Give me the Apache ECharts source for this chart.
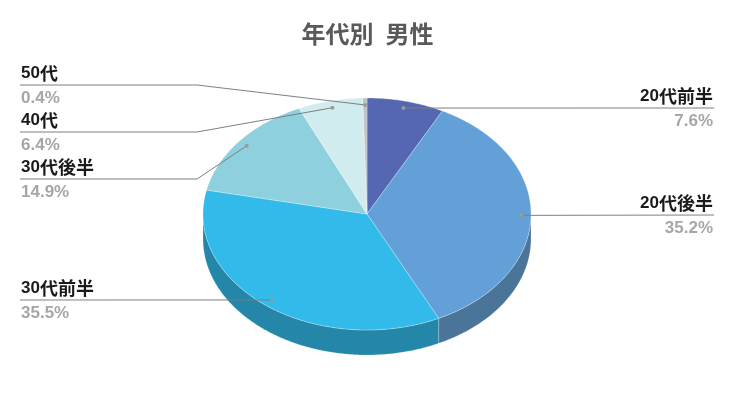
<!DOCTYPE html>
<html>
<head>
<meta charset="utf-8">
<script src="https://cdn.jsdelivr.net/npm/echarts@6/dist/echarts.min.js"></script>
<style>
html,body{margin:0;padding:0;background:#fff;}
#chart{width:735px;height:412px;}
</style>
</head>
<body>
<div id="chart"></div>
<script>
// ---- data ----
const titleText = '年代別\u2002男性';
const categories = ['20代前半', '20代後半', '30代前半', '30代後半', '40代', '50代'];
const values = [7.6, 35.2, 35.5, 14.9, 6.4, 0.4];
const topColors = ['#5567B3', '#63A0D8', '#32BBEA', '#8ED0DD', '#D1ECEE', '#BDC1C8'];
const sideColors = ['#3F4E8A', '#4A7598', '#2486A8', '#6A9DA8', '#9DB3B5', '#8F9399'];

// ---- layout (not data) ----
const CX = 367, CY = 214, RX = 164, RY = 116, DEPTH = 25;
const ANCHOR_R = 0.94;
const FONT = '"Liberation Sans", Arial, "Noto Sans CJK JP", sans-serif';
// label line y for each slice (stacked to avoid overlap) and side
const labelLineY = [108, 215, 300, 179, 132, 85];
const labelSide = ['right', 'right', 'left', 'left', 'left', 'left'];

const total = values.reduce((a, b) => a + b, 0);

function pt(theta, r, dz) {
  return [CX + RX * r * Math.sin(theta), CY - RY * r * Math.cos(theta) + (dz || 0)];
}
function arc(a0, a1, r, dz) {
  const pts = [];
  const n = Math.max(2, Math.ceil((a1 - a0) / 0.01));
  for (let k = 0; k <= n; k++) pts.push(pt(a0 + (a1 - a0) * k / n, r, dz));
  return pts;
}

function nameRich(name) {
  const m = name.match(/^(\d*)(.*)$/);
  return '{d|' + m[1] + '}{c|' + m[2] + '}';
}

function renderItem(params, api) {
  const i = params.dataIndex;
  let before = 0;
  for (let j = 0; j < i; j++) before += values[j];
  const a0 = before / total * Math.PI * 2;
  const a1 = (before + values[i]) / total * Math.PI * 2;
  const children = [];

  // front wall
  const w0 = Math.max(a0, Math.PI / 2), w1 = Math.min(a1, Math.PI * 1.5);
  if (w1 > w0) {
    const upper = arc(w0, w1, 1, 0);
    const lower = arc(w0, w1, 1, DEPTH).reverse();
    children.push({
      type: 'polygon', z2: 1,
      shape: { points: upper.concat(lower) },
      style: { fill: sideColors[i], stroke: 'rgba(255,255,255,0.35)', lineWidth: 0.6 }
    });
  }
  // top face
  children.push({
    type: 'polygon', z2: 2,
    shape: { points: [[CX, CY]].concat(arc(a0, a1, 1, 0)) },
    style: { fill: topColors[i], stroke: 'rgba(255,255,255,0.45)', lineWidth: 0.6 }
  });

  // label
  const mid = (a0 + a1) / 2;
  const anchor = pt(mid, ANCHOR_R, 0);
  const ly = labelLineY[i];
  const side = labelSide[i];
  let linePts;
  if (side === 'left') {
    linePts = Math.abs(ly - anchor[1]) < 1 ? [[20, ly], anchor] : [[20, ly], [197, ly], anchor];
  } else {
    linePts = Math.abs(ly - anchor[1]) < 1 ? [[714, ly], anchor] : [[714, ly], [540, ly], anchor];
  }
  children.push({
    type: 'polyline', z2: 5,
    shape: { points: linePts },
    style: { stroke: '#7F7F7F', lineWidth: 1, fill: null }
  });
  children.push({
    type: 'circle', z2: 6,
    shape: { cx: anchor[0], cy: anchor[1], r: 2 },
    style: { fill: '#9A9A9A' }
  });
  const tx = side === 'left' ? 21 : 713;
  children.push({
    type: 'text', z2: 6,
    style: {
      x: tx, y: ly - 12, text: nameRich(categories[i]), fill: '#1A1A1A',
      align: side, verticalAlign: 'middle',
      rich: {
        d: { fontSize: 17, fontWeight: 'bold', fontFamily: FONT, fill: '#1A1A1A', lineHeight: 20 },
        c: { fontSize: 18, fontWeight: 'bold', fontFamily: '"Noto Sans CJK JP", sans-serif', fill: '#1A1A1A', lineHeight: 20 }
      }
    }
  });
  children.push({
    type: 'text', z2: 6,
    style: {
      x: tx, y: ly + 13, text: values[i].toFixed(1) + '%', fill: '#A6A6A6',
      font: 'bold 17px ' + FONT, align: side, verticalAlign: 'middle'
    }
  });
  return { type: 'group', children: children };
}

const chart = echarts.init(document.getElementById('chart'), null, { renderer: 'canvas' });
chart.setOption({
  backgroundColor: '#ffffff',
  animation: false,
  title: {
    text: titleText,
    left: 'center',
    top: 22,
    padding: 0,
    textStyle: { fontSize: 24, fontWeight: 'bold', color: '#595959', fontFamily: '"Noto Sans CJK JP", sans-serif', lineHeight: 24 }
  },
  series: [{
    type: 'custom',
    coordinateSystem: 'none',
    renderItem: renderItem,
    data: values
  }]
});
</script>
</body>
</html>
